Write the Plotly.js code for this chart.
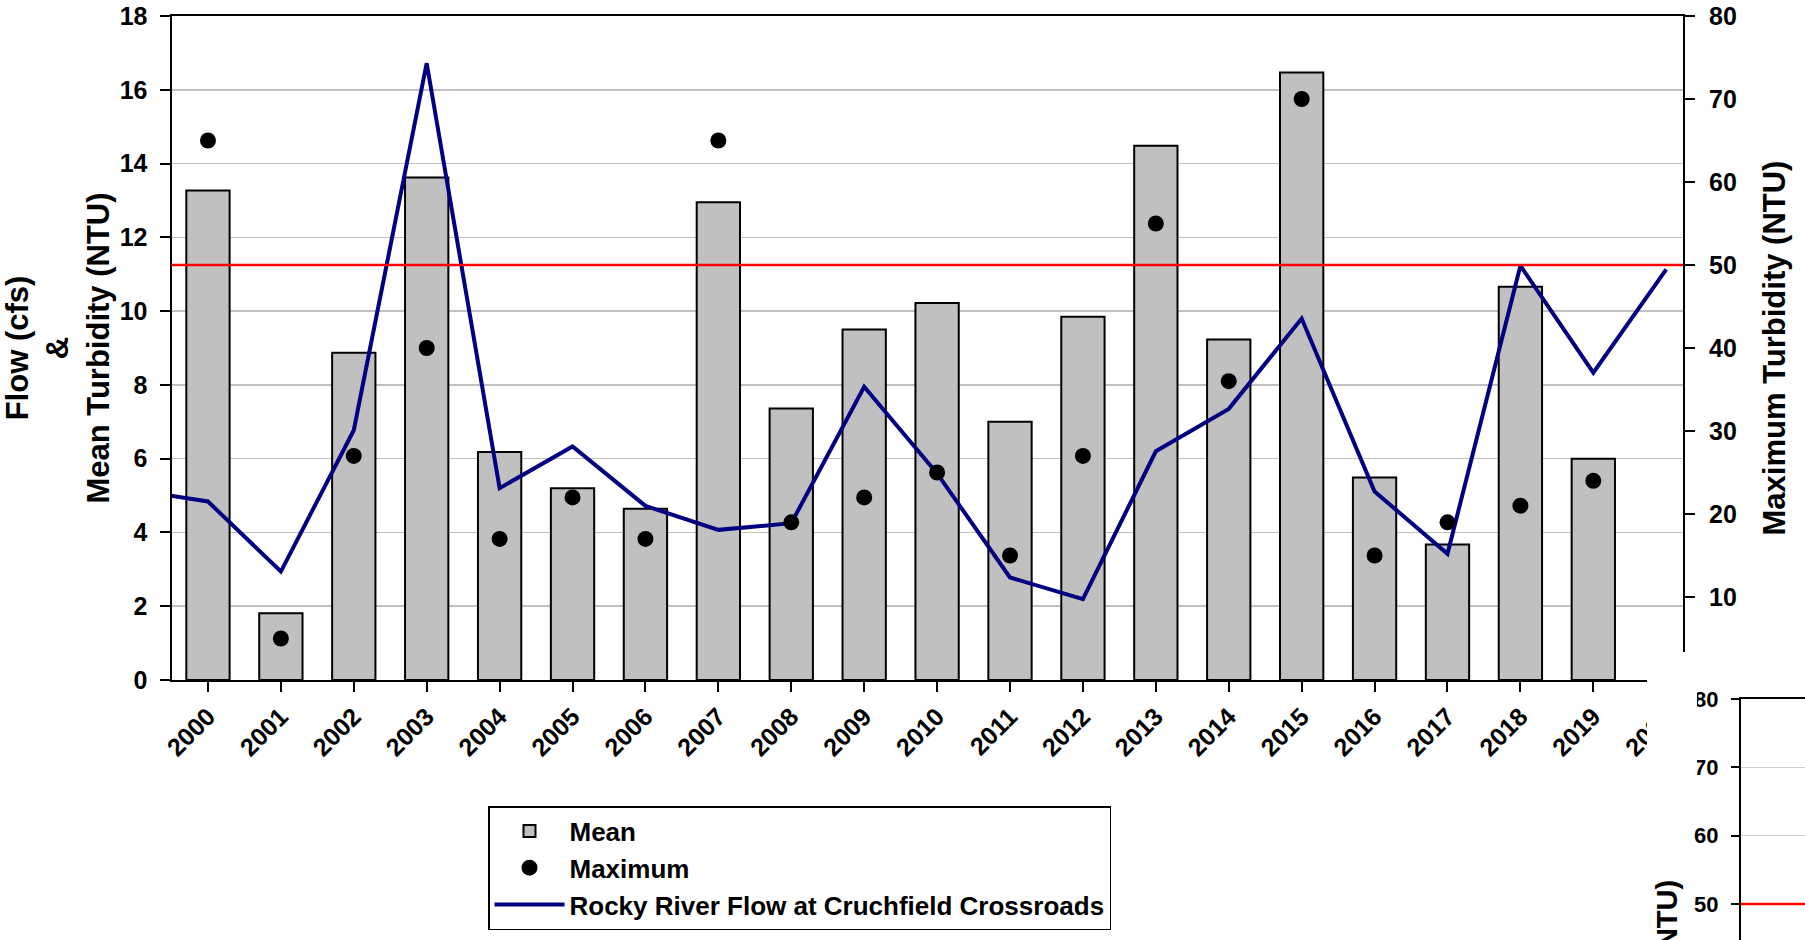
<!DOCTYPE html>
<html>
<head>
<meta charset="utf-8">
<script src="https://cdn.plot.ly/plotly-3.0.1.min.js"></script>
<style>
html,body{margin:0;padding:0;background:#ffffff;}
#chart{width:1805px;height:940px;}
</style>
</head>
<body>
<div id="chart"></div>
<script>
// ---- data ----
const years = [1999, 2000, 2001, 2002, 2003, 2004, 2005, 2006, 2007, 2008, 2009,
               2010, 2011, 2012, 2013, 2014, 2015, 2016, 2017, 2018, 2019, 2020];
const tickYears = ["2000","2001","2002","2003","2004","2005","2006","2007","2008","2009",
                   "2010","2011","2012","2013","2014","2015","2016","2017","2018","2019","2020"];
// Mean turbidity (NTU), left axis
const meanTurbidity = [null, 13.27, 1.81, 8.87, 13.62, 6.18, 5.20, 4.64, 12.95, 7.36, 9.50,
                       10.22, 7.00, 9.85, 14.48, 9.23, 16.47, 5.49, 3.67, 10.66, 6.00, null];
// Maximum turbidity (NTU), right axis
const maxTurbidity = [null, 65, 5, 27, 40, 17, 22, 17, 65, 19, 22,
                      25, 15, 27, 55, 36, 70, 15, 19, 21, 24, null];
// Rocky River flow at Cruchfield Crossroads (cfs), left axis
const flow = [5.15, 4.84, 2.94, 6.77, 16.72, 5.20, 6.33, 4.72, 4.07, 4.25, 7.95,
              5.60, 2.78, 2.19, 6.20, 7.35, 9.80, 5.11, 3.42, 11.23, 8.33, 11.13];
const maxTicks = [10, 20, 30, 40, 50, 60, 70, 80];
const standard = 50;           // turbidity standard (NTU)
const secondTicks = [50, 60, 70, 80];

// ---- layout helpers (pixel -> paper) ----
const W = 1805, H = 940;
const px = v => v / W;
const py = v => 1 - v / H;

const FONT = "Liberation Sans, Arial, Helvetica, sans-serif";
const tickFont = {family: FONT, size: 25, color: "#000000", weight: 700};
const titleFont = {family: FONT, size: 31, color: "#000000", weight: 700};

const traces = [
  {
    type: "bar", name: "Mean", x: years, y: meanTurbidity,
    xaxis: "x", yaxis: "y", width: 0.594,
    marker: {color: "#c0c0c0", line: {color: "#000000", width: 2}},
    hoverinfo: "x+y"
  },
  {
    type: "scatter", mode: "markers", name: "Maximum", x: years, y: maxTurbidity,
    xaxis: "x", yaxis: "y2",
    marker: {color: "#000000", size: 16, symbol: "circle"},
    cliponaxis: true
  },
  {
    type: "scatter", mode: "lines", name: "Rocky River Flow at Cruchfield Crossroads",
    x: years, y: flow, xaxis: "x", yaxis: "y",
    line: {color: "#000080", width: 4}
  },
  {
    type: "scatter", mode: "lines", x: [], y: [], xaxis: "x3", yaxis: "y3",
    showlegend: false, hoverinfo: "skip"
  }
];

const layout = {
  width: W, height: H,
  margin: {l: 0, r: 0, t: 0, b: 0, pad: 0},
  paper_bgcolor: "#ffffff", plot_bgcolor: "#ffffff",
  font: {family: FONT, color: "#000000"},
  showlegend: true,
  bargap: 0,
  xaxis: {
    domain: [px(171.5), px(1683)], range: [1999.5, 2020.23], anchor: "y",
    tickmode: "array", tickvals: years.slice(1), ticktext: tickYears,
    tickangle: -45, ticks: "outside", ticklen: 10, tickwidth: 2, tickcolor: "#000000",
    showline: true, linecolor: "#000000", linewidth: 2, mirror: true,
    showgrid: false, zeroline: false, tickfont: tickFont, fixedrange: true
  },
  yaxis: {
    domain: [py(680), py(16)], range: [0, 18], anchor: "x",
    tickmode: "linear", tick0: 0, dtick: 2,
    ticks: "outside", ticklen: 10, tickwidth: 2, tickcolor: "#000000",
    showline: true, linecolor: "#000000", linewidth: 2,
    showgrid: true, gridcolor: "#c0c0c0", gridwidth: 1.5, zeroline: false,
    tickfont: tickFont, ticklabelstandoff: 7,
    title: {text: "Flow (cfs)<br>&<br>Mean Turbidity (NTU)", font: titleFont, standoff: 12},
    fixedrange: true
  },
  yaxis2: {
    overlaying: "y", side: "right", anchor: "x", range: [0, 80],
    tickmode: "array", tickvals: maxTicks,
    ticks: "outside", ticklen: 10, tickwidth: 2, tickcolor: "#000000",
    showline: true, linecolor: "#000000", linewidth: 2,
    showgrid: false, zeroline: false,
    tickfont: tickFont, ticklabelstandoff: 9,
    title: {text: "Maximum Turbidity (NTU)", font: titleFont, standoff: 27},
    fixedrange: true
  },
  xaxis3: {
    domain: [px(1741), 1], range: [0, 1], anchor: "y3", side: "top",
    showline: true, linecolor: "#000000", linewidth: 2,
    showticklabels: false, ticks: "", showgrid: false, zeroline: false, fixedrange: true
  },
  yaxis3: {
    domain: [0, py(699)], range: [44.73, 80], anchor: "x3",
    tickmode: "array", tickvals: secondTicks,
    ticks: "outside", ticklen: 8, tickwidth: 2, tickcolor: "#000000",
    showline: true, linecolor: "#000000", linewidth: 2,
    showgrid: true, gridcolor: "#d0d0d0", gridwidth: 1.5, zeroline: false,
    tickfont: {family: FONT, size: 22, color: "#000000", weight: 700},
    ticklabelstandoff: 8, fixedrange: true
  },
  legend: {
    x: px(488), y: py(806), xanchor: "left", yanchor: "top",
    bgcolor: "#ffffff", bordercolor: "#000000", borderwidth: 1.5,
    font: {family: FONT, size: 26, color: "#000000", weight: 700},
    itemwidth: 70, traceorder: "normal", tracegroupgap: 0
  },
  shapes: [
    {type: "line", xref: "x domain", x0: 0, x1: 1, yref: "y2", y0: standard, y1: standard,
     line: {color: "#ff0000", width: 2.5}, layer: "above"},
    {type: "rect", xref: "paper", x0: px(1647), x1: px(1697), yref: "paper", y0: py(765), y1: py(652),
     fillcolor: "#ffffff", line: {width: 0}, layer: "above"},
    {type: "line", xref: "x3 domain", x0: 0, x1: 1, yref: "y3", y0: standard, y1: standard,
     line: {color: "#ff0000", width: 2.5}, layer: "above"}
  ],
  annotations: [
    {text: "Maximum Turbidity (NTU)", textangle: -90, showarrow: false,
     xref: "paper", yref: "paper", x: px(1666), y: py(878), xanchor: "center", yanchor: "top",
     font: {family: FONT, size: 29, color: "#000000", weight: 700}}
  ]
};

Plotly.newPlot("chart", traces, layout, {displayModeBar: false, staticPlot: true});
</script>
</body>
</html>
